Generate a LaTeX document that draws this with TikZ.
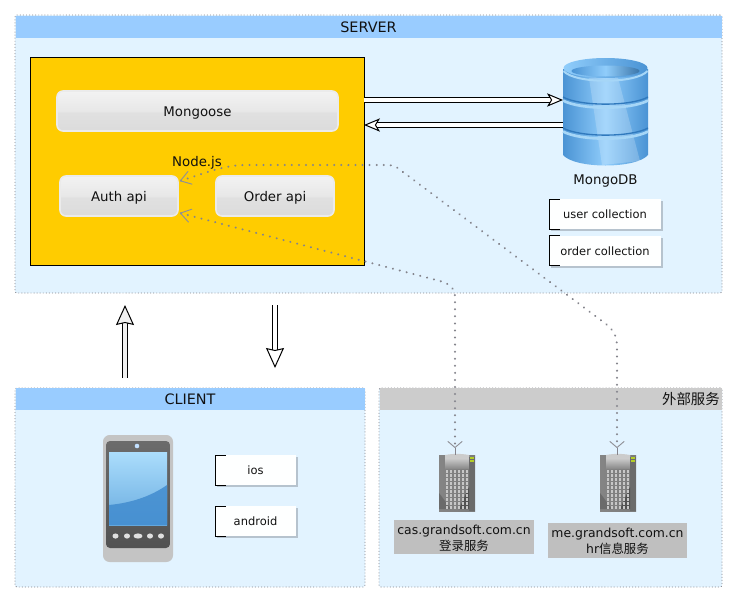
\documentclass[tikz,border=0pt]{standalone}
\usepackage{fontspec}
\setmainfont{DejaVu Sans}
\newfontfamily\cjk{Noto Sans CJK SC}
\usetikzlibrary{arrows.meta,shadows,calc}
\definecolor{panelbg}{HTML}{E2F3FF}
\definecolor{headblue}{HTML}{99CCFF}
\definecolor{headgray}{HTML}{CCCCCC}
\definecolor{dotc}{HTML}{84848C}
\definecolor{nodeyellow}{HTML}{FFCC00}
\definecolor{txt}{HTML}{111111}
\definecolor{dbside}{HTML}{4A93D4}
\definecolor{dbmid}{HTML}{90CDFB}
\definecolor{dbgroove}{HTML}{3079BD}
\definecolor{dbband}{HTML}{A6D6F7}
\definecolor{shadowc}{HTML}{A8B4BE}
\definecolor{screenlight}{HTML}{ABDDFC}
\definecolor{screenmid}{HTML}{68ABDF}
\definecolor{screenlow}{HTML}{4790D1}
\pgfdeclareverticalshading{glassfill}{100bp}{
  color(0bp)=(white!86!black);color(25bp)=(white!86!black);color(48bp)=(white!88!black);
  color(50.5bp)=(white!91!black);color(75bp)=(white!95!black);color(100bp)=(white!95!black)}
\tikzset{
  x=0.75pt,y=-0.75pt,
  sized/.style 2 args={minimum width=#1*0.75pt,minimum height=#2*0.75pt,inner sep=0pt,outer sep=0pt},
  panel/.style={rectangle,fill=panelbg,draw=dotc,line width=.6pt,dash pattern=on .7pt off 1.6pt,rounded corners=1.5pt},
  headbar/.style={rectangle,text=txt,font=\fontsize{10.8pt}{12pt}\selectfont,text depth=0pt,text height=7.9pt},
  glass/.style={rectangle,rounded corners=4.5pt,draw=white!92!black,line width=1.2pt,shading=glassfill,text=txt,font=\fontsize{10pt}{12pt}\selectfont,text depth=0pt,text height=8.1pt},
  tagbox/.style={rectangle,fill=white!97!panelbg,text=txt,font=\fontsize{8.6pt}{10pt}\selectfont,text depth=0pt,text height=7.1pt,
    drop shadow={shadow xshift=1.6pt,shadow yshift=-1.6pt,fill=shadowc,opacity=.75}},
  bracket/.style={draw=black,line width=.7pt},
  caption/.style={rectangle,fill=black!25,text=txt,align=center,font=\fontsize{9.3pt}{12pt}\selectfont},
  plain label/.style={text=txt,inner sep=0pt,font=\fontsize{10pt}{12pt}\selectfont,text depth=0pt,text height=8.1pt},
  hollow/.style={draw=black,line width=.75pt,double=white,double distance=2.4pt},
  hollowtall/.style={draw=black,line width=.75pt,double distance=3pt},
  bigtip/.style={-{Stealth[length=12pt,width=10pt,inset=3pt,fill=white,line width=.75pt]}},
  uptip/.style={-{Stealth[length=15pt,width=13.5pt,inset=1.5pt,fill=#1,line width=.75pt]}},
  dotted link/.style={draw=dotc,line width=1.6pt,line cap=round,dash pattern=on .1pt off 5.2pt,
    {Straight Barb[length=7.5pt,width=10pt,line width=.7pt,color=dotc!90!white,round]}-{Straight Barb[length=4.5pt,width=10.5pt,line width=.7pt,color=dotc!90!white,round]}},
  stem/.style={draw=dotc,line width=.7pt},
}
% building icon, centred on x=0, top at y=0 (36 x 56 px)
\newcommand{\buildingicon}[2]{%
\begin{scope}[shift={(#1,#2)}]
  \shade[left color=black!48,right color=black!52] (-18,0) rectangle (18,56);
  \shade[top color=black!12,bottom color=black!45] (-12,0) rectangle (12,13);
  \fill[black!20] (-12,0) .. controls (-4,-1.5) and (4,-1.5) .. (12,0) -- (12,3) -- (-12,3) -- cycle;
  \fill[black!58] (12,2) rectangle (18,56);
  \fill[black!58] (-18,38) -- (-6,54) -- (-18,54) -- cycle;
  \fill[black!68] (12,32) -- (2,54) -- (12,54) -- cycle;
  \fill[yellow!75!green!90!black] (13,2) rectangle (17,4);
  \fill[yellow!75!green!90!black] (13,5) rectangle (17,7);
  \foreach \ix in {0,...,5}{\foreach \iy in {0,...,9}{
    \fill[black!22] ({-11.5+\ix*4},{15+\iy*4}) rectangle ({-8.7+\ix*4},{17.6+\iy*4});
  }}
\end{scope}}
\begin{document}
\begin{tikzpicture}
\useasboundingbox (0,0) rectangle (737,603);
% panels
\node[panel,sized={707}{278}] (server) at (368.5,154) {};
\node[panel,sized={350}{199}] (client) at (190,487.5) {};
\node[panel,sized={343}{199}] (external) at (550.5,487.5) {};
\node[headbar,fill=headblue,sized={706}{22.5}] (serverhead) at (368.5,26.75) {SERVER};
\node[headbar,fill=headblue,sized={349}{21.5}] (clienthead) at (190,399) {CLIENT};
\node[headbar,fill=headgray,sized={342}{21.5}] (externalhead) at (550.5,399) {};
\node[text=txt,inner sep=0pt,anchor=east,font=\cjk\fontsize{10.8pt}{12pt}\selectfont] (externaltitle) at (720,399) {外部服务};
% Node.js container
\node[rectangle,fill=nodeyellow,draw=black,line width=.75pt,sized={334}{208}] (nodejs) at (197,161) {};
\node[plain label] (nodelabel) at (197,161) {Node.js};
\node[glass,sized={281}{40}] (mongoose) at (197.5,111) {Mongoose};
\node[glass,sized={118}{40}] (auth) at (119,196) {Auth api};
\node[glass,sized={118}{40}] (order) at (275,196) {Order api};
% database
\node[rectangle,sized={85}{107}] (db) at (605.5,111.5) {};
\shade[left color=dbside,right color=dbside,middle color=dbmid]
  (563,69) -- (563,155) .. controls (575,169) and (636,169) .. (648,155) -- (648,69) -- cycle;
\fill[white,opacity=.2] (589,78) -- (617,74) -- (640,161) -- (602,165) -- cycle;
\shade[left color=dbmid,right color=dbside] (605.5,68) ellipse [x radius=42,y radius=10];
\shade[left color=dbside,right color=dbside!80!black,middle color=dbmid] (605.5,71) ellipse [x radius=34,y radius=5.5];
\draw[line width=1.5pt,dbband] (563.5,71) .. controls (575,84) and (636,84) .. (647.5,71);
\draw[line width=1pt,dbgroove] (563,97) .. controls (580,106.5) and (631,106.5) .. (648,97);
\draw[line width=2pt,dbband] (563,100.5) .. controls (580,110) and (631,110) .. (648,100.5);
\draw[line width=1pt,dbgroove] (563,128) .. controls (580,137.5) and (631,137.5) .. (648,128);
\draw[line width=2pt,dbband] (563,131.5) .. controls (580,141) and (631,141) .. (648,131.5);
\node[plain label] (dblabel) at (605.5,179) {MongoDB};
% collections and platform tags
\node[tagbox,sized={112}{30}] (usercol) at (605,214) {user collection};
\node[tagbox,sized={112}{30}] (ordercol) at (605,250.5) {order collection};
\node[tagbox,sized={81}{30}] (ios) at (255.5,470) {ios};
\node[tagbox,sized={81}{30}] (android) at (255.5,521) {android};
\foreach \n in {usercol,ordercol,ios,android}{
  \draw[bracket] ([xshift=8pt]\n.north west) -- (\n.north west) -- (\n.south west) -- ([xshift=8pt]\n.south west);
}
% phone
\node[rectangle,fill=black!23,rounded corners=5pt,sized={70}{127}] (phone) at (138,498.5) {};
\shade[top color=black!58,bottom color=black!68,rounded corners=3pt] (106,441) rectangle (170,548);
\shade[top color=screenlight,bottom color=screenmid] (109,452) rectangle (167,525);
\shade[top color=screenlow!85!screenmid,bottom color=screenlow] (109,505) .. controls (130,503) and (150,497) .. (167,485) -- (167,525) -- (109,525) -- cycle;
\fill[headblue!60!white] (137,446) circle [radius=2.3];
\foreach \bx/\br in {115.5/3,127/3,138/4.5,150/3,161/3}{
  \fill[black!12] (\bx,536) ellipse [x radius=\br,y radius=2.6];
}
% servers
\node[rectangle,sized={36}{56}] (cas) at (457,483) {};
\node[rectangle,sized={36}{56}] (me) at (618,483) {};
\buildingicon{457}{455}
\buildingicon{618}{455}
\node[caption,sized={140}{34}] (caslabel) at (464,537) {\rule{0pt}{9pt}cas.grandsoft.com.cn\\{\cjk 登录服务}};
\node[caption,sized={139}{35}] (melabel) at (617.5,540.5) {\rule{0pt}{9pt}me.grandsoft.com.cn\\hr{\cjk 信息服务}};
% hollow arrows
\coordinate (dbin) at (563,100);
\coordinate (dbout) at (563,125);
\draw[hollow,bigtip] (nodejs.east |- dbin) -- (dbin);
\draw[hollow,bigtip] (dbout) -- (nodejs.east |- dbout);
\coordinate (upstart) at (125,378);
\coordinate (upend) at (125,305);
\coordinate (downstart) at (275,305);
\coordinate (downend) at (275,368);
\draw[hollowtall,double=black!6,uptip=black!6] (upstart) -- (upend);
\draw[hollowtall,double=white,uptip=white] (downstart) -- (downend);
% dotted links
\coordinate (apexa) at (455,448);
\coordinate (apexb) at (617,448);
\draw[stem] (apexa) -- (apexa |- cas.north);
\draw[stem] (apexb) -- (apexb |- me.north);
\path[dotted link] ([xshift=1.5pt,yshift=11.25pt]auth.east) .. controls (205,173) and (225,165) .. (245,165) -- (388,165) .. controls (395,165) and (398,168) .. (403,172) -- (606,324) .. controls (613,330) and (617,335) .. (617,347) -- (apexb);
\path[dotted link] ([xshift=1.5pt,yshift=-12.75pt]auth.east) -- (440,281) .. controls (450,284) and (455,288) .. (455,298) -- (apexa);
\end{tikzpicture}
\end{document}
